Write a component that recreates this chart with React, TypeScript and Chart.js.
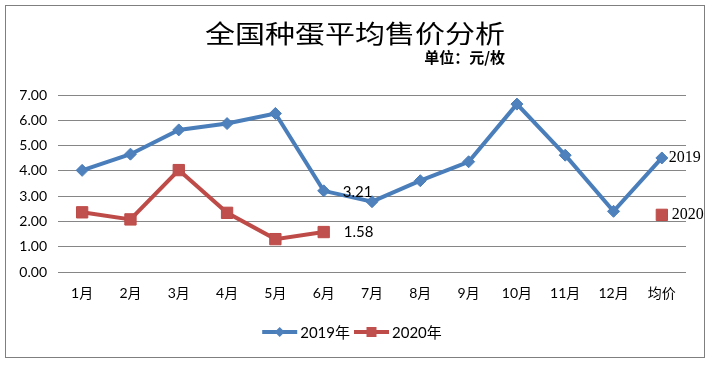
import React, { useEffect, useRef } from "react";
import { Chart, registerables } from "chart.js";

Chart.register(...registerables);

const categories = ["1月", "2月", "3月", "4月", "5月", "6月", "7月", "8月", "9月", "10月", "11月", "12月", "均价"];
const seriesNames = ["2019", "2020"];
const legendNames = ["2019年", "2020年"];
const values2019 = [4.02, 4.66, 5.62, 5.87, 6.27, 3.21, 2.78, 3.61, 4.36, 6.64, 4.62, 2.4, 4.51];
const values2020: (number | null)[] = [2.36, 2.08, 4.03, 2.34, 1.3, 1.58, null, null, null, null, null, null, 2.26];
const titleText = "全国种蛋平均售价分析";
const unitText = "单位：元/枚";
const yMin = 0;
const yMax = 7;
const yStep = 1;
const labelledIndex = 5; // 6月 values are labelled

const BLUE = "#4A7EBB";
const BLUE_FILL = "#4F81BD";
const RED = "#BE4B48";
const RED_FILL = "#C0504D";
const SANS = "Lato, 'Noto Sans CJK SC', sans-serif";

const overlayPlugin = {
  id: "overlay",
  afterDraw(chart: any) {
    const ctx = chart.ctx as CanvasRenderingContext2D;
    const xs = chart.scales.x;
    const ys = chart.scales.y;
    ctx.save();
    // title
    ctx.fillStyle = "#000";
    ctx.textAlign = "center";
    ctx.textBaseline = "middle";
    ctx.save();
    ctx.translate(355, 33);
    ctx.scale(1.2, 1);
    ctx.font = "25px 'Noto Sans CJK SC'";
    ctx.fillText(titleText, 0, 0);
    ctx.restore();
    // unit
    ctx.textAlign = "right";
    ctx.font = "bold 15px 'Noto Sans CJK SC'";
    ctx.fillText(unitText, 505, 57);

    // data labels
    ctx.textAlign = "left";
    ctx.font = "15px " + SANS;
    const v1 = values2019[labelledIndex];
    const v2 = values2020[labelledIndex] as number;
    ctx.fillText(v1.toFixed(2), xs.getPixelForValue(labelledIndex) + 19, ys.getPixelForValue(v1) + 1);
    ctx.fillText(v2.toFixed(2), xs.getPixelForValue(labelledIndex) + 20, ys.getPixelForValue(v2));

    // end labels
    const last = categories.length - 1;
    ctx.font = "16px 'Liberation Serif', serif";
    ctx.fillText(seriesNames[0], xs.getPixelForValue(last) + 7, ys.getPixelForValue(values2019[last]));
    ctx.fillText(seriesNames[1], xs.getPixelForValue(last) + 10, ys.getPixelForValue(values2020[last] as number));

    // legend
    ctx.font = "15px " + SANS;
    const lineLen = 35;
    const gap = 3;
    const w1 = ctx.measureText(legendNames[0]).width;
    const w2 = ctx.measureText(legendNames[1]).width;
    const total = lineLen + gap + w1 + 4 + lineLen + gap + w2;
    let x = 352 - total / 2;
    const ly = 332;
    const items = [
      { name: legendNames[0], w: w1, color: BLUE, fill: BLUE_FILL, style: "rectRot" },
      { name: legendNames[1], w: w2, color: RED, fill: RED_FILL, style: "rect" },
    ];
    items.forEach((it) => {
      ctx.strokeStyle = it.color;
      ctx.lineWidth = 4;
      ctx.beginPath();
      ctx.moveTo(x, ly);
      ctx.lineTo(x + lineLen, ly);
      ctx.stroke();
      ctx.fillStyle = it.fill;
      const cx = x + lineLen / 2;
      ctx.beginPath();
      if (it.style === "rectRot") {
        ctx.moveTo(cx - 5, ly);
        ctx.lineTo(cx, ly - 5);
        ctx.lineTo(cx + 5, ly);
        ctx.lineTo(cx, ly + 5);
        ctx.closePath();
      } else {
        ctx.rect(cx - 5, ly - 5, 10, 10);
      }
      ctx.fill();
      ctx.fillStyle = "#000";
      ctx.textAlign = "left";
      ctx.fillText(it.name, x + lineLen + gap, ly + 1);
      x += lineLen + gap + it.w + 4;
    });
    ctx.restore();
  },
};

export default function App() {
  const ref = useRef<HTMLCanvasElement | null>(null);
  useEffect(() => {
    if (!ref.current) return;
    const chart = new Chart(ref.current, {
      type: "line",
      data: {
        labels: categories,
        datasets: [
          {
            label: legendNames[0],
            data: values2019,
            borderColor: BLUE,
            backgroundColor: BLUE_FILL,
            borderWidth: 4,
            pointStyle: "rectRot",
            pointRadius: 6,
            pointBorderWidth: 1,
            pointBorderColor: BLUE,
            pointBackgroundColor: BLUE_FILL,
            tension: 0,
          },
          {
            label: legendNames[1],
            data: values2020,
            borderColor: RED,
            backgroundColor: RED_FILL,
            borderWidth: 4,
            pointStyle: "rect",
            pointRadius: 8,
            pointBorderWidth: 1,
            pointBorderColor: RED,
            pointBackgroundColor: RED_FILL,
            spanGaps: false,
            tension: 0,
          },
        ],
      },
      options: {
        animation: false,
        responsive: false,
        maintainAspectRatio: false,
        layout: { padding: { top: 95, right: 25, bottom: 0, left: 0 } },
        plugins: {
          legend: { display: false },
          title: { display: false },
          tooltip: { enabled: false },
        },
        scales: {
          x: {
            offset: true,
            grid: { display: false, drawTicks: false },
            border: { display: false },
            ticks: { color: "#000", font: { size: 14, family: SANS }, padding: 13, autoSkip: false, maxRotation: 0 },
            afterFit: (s: any) => {
              s.height = 93;
            },
          },
          y: {
            min: yMin,
            max: yMax,
            grid: { color: "#868686", lineWidth: 1, drawTicks: false },
            border: { display: false },
            ticks: {
              stepSize: yStep,
              color: "#000",
              padding: 11,
              font: { size: 14, family: SANS },
              callback: (v: any) => Number(v).toFixed(2),
            },
            afterFit: (s: any) => {
              s.width = 58;
            },
          },
        },
      },
      plugins: [overlayPlugin],
    });
    return () => chart.destroy();
  }, []);

  return (
    <div style={{ position: "absolute", left: 0, top: 0, width: 711, height: 365, background: "#fff" }}>
      <div
        style={{
          position: "absolute",
          left: 5,
          top: 5,
          width: 698,
          height: 351,
          border: "1px solid #7f7f7f",
        }}
      />
      <canvas ref={ref} width={711} height={365} style={{ position: "absolute", left: 0, top: 0, width: 711, height: 365 }} />
    </div>
  );
}
